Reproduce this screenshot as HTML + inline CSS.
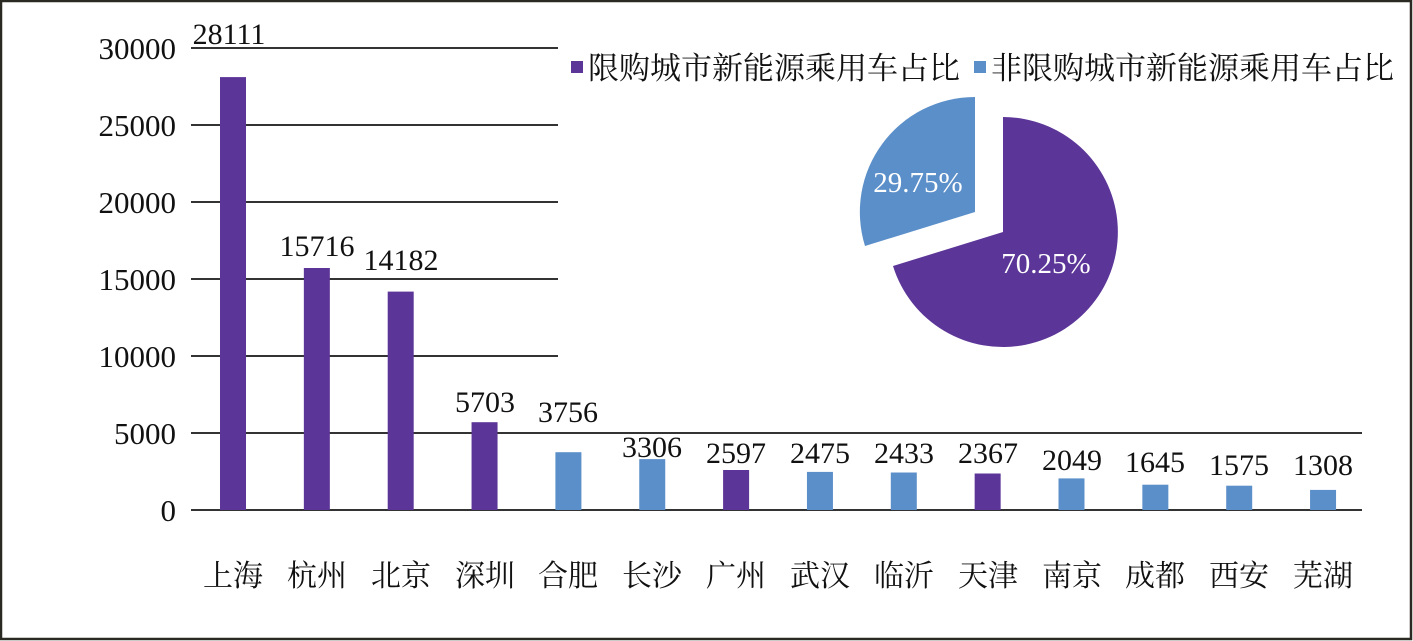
<!DOCTYPE html>
<html><head><meta charset="utf-8"><style>
html,body{margin:0;padding:0;background:#fff}
svg{display:block}
text{font-family:"Liberation Serif","Noto Serif CJK SC",serif;fill:#111}
.cj{font-family:"Liberation Serif","Noto Serif CJK SC","Noto Sans CJK SC",serif}
.w{fill:#fff}
</style></head><body>
<svg width="1413" height="641" viewBox="0 0 1413 641">
<rect x="1" y="1" width="1410" height="638" fill="#fff" stroke="#2a2a22" stroke-width="2.5"/>
<g stroke="#333" stroke-width="2">
<line x1="191" y1="48" x2="558" y2="48"/>
<line x1="191" y1="125" x2="558" y2="125"/>
<line x1="191" y1="202" x2="558" y2="202"/>
<line x1="191" y1="279" x2="558" y2="279"/>
<line x1="191" y1="356" x2="558" y2="356"/>
<line x1="191" y1="433" x2="1362" y2="433"/>
<line x1="191" y1="510" x2="1362" y2="510"/>
</g>
<g font-size="31" text-anchor="end">
<text x="176" y="59">30000</text><text x="176" y="136">25000</text><text x="176" y="213">20000</text>
<text x="176" y="290">15000</text><text x="176" y="367">10000</text><text x="176" y="444">5000</text><text x="176" y="521">0</text>
</g>
<g>
<rect x="220" y="77.1" width="26" height="432.9" fill="#5c3598"/>
<rect x="303.85" y="268" width="26" height="242" fill="#5c3598"/>
<rect x="387.7" y="291.6" width="26" height="218.4" fill="#5c3598"/>
<rect x="471.55" y="422.2" width="26" height="87.8" fill="#5c3598"/>
<rect x="555.4" y="452.2" width="26" height="57.8" fill="#5b8fc9"/>
<rect x="639.25" y="459.1" width="26" height="50.9" fill="#5b8fc9"/>
<rect x="723.1" y="470" width="26" height="40" fill="#5c3598"/>
<rect x="806.95" y="471.9" width="26" height="38.1" fill="#5b8fc9"/>
<rect x="890.8" y="472.5" width="26" height="37.5" fill="#5b8fc9"/>
<rect x="974.65" y="473.5" width="26" height="36.5" fill="#5c3598"/>
<rect x="1058.5" y="478.4" width="26" height="31.6" fill="#5b8fc9"/>
<rect x="1142.35" y="484.7" width="26" height="25.3" fill="#5b8fc9"/>
<rect x="1226.2" y="485.7" width="26" height="24.3" fill="#5b8fc9"/>
<rect x="1310.05" y="489.9" width="26" height="20.1" fill="#5b8fc9"/>
</g>
<g font-size="30" text-anchor="middle">
<text x="229" y="44">28111</text>
<text x="317" y="256">15716</text>
<text x="401" y="270">14182</text>
<text x="485" y="412">5703</text>
<text x="568" y="422">3756</text>
<text x="652" y="457">3306</text>
<text x="736" y="463">2597</text>
<text x="820" y="463">2475</text>
<text x="904" y="463">2433</text>
<text x="988" y="463">2367</text>
<text x="1072" y="470">2049</text>
<text x="1155" y="472">1645</text>
<text x="1239" y="475">1575</text>
<text x="1323" y="475">1308</text>
</g>
<g class="cj" font-size="30" text-anchor="middle">
<text x="233" y="586">上海</text><text x="317" y="586">杭州</text><text x="401" y="586">北京</text>
<text x="485" y="586">深圳</text><text x="568" y="586">合肥</text><text x="652" y="586">长沙</text>
<text x="736" y="586">广州</text><text x="820" y="586">武汉</text><text x="904" y="586">临沂</text>
<text x="988" y="586">天津</text><text x="1072" y="586">南京</text><text x="1155" y="586">成都</text>
<text x="1239" y="586">西安</text><text x="1323" y="586">芜湖</text>
</g>
<path d="M1003,232 L1003,117 A115,115 0 1 1 893,266 Z" fill="#5c3598"/>
<path d="M975,212 L865,246 A115,115 0 0 1 975,97 Z" fill="#5b8fc9"/>
<text class="w" x="1046" y="273" font-size="29" text-anchor="middle">70.25%</text>
<text class="w" x="918" y="192" font-size="29" text-anchor="middle">29.75%</text>
<rect x="571" y="61" width="12" height="12" fill="#5c3598"/>
<text class="cj" x="588" y="79" font-size="31">限购城市新能源乘用车占比</text>
<rect x="974" y="61" width="12" height="12" fill="#5b8fc9"/>
<text class="cj" x="991" y="79" font-size="31">非限购城市新能源乘用车占比</text>
</svg>
</body></html>
